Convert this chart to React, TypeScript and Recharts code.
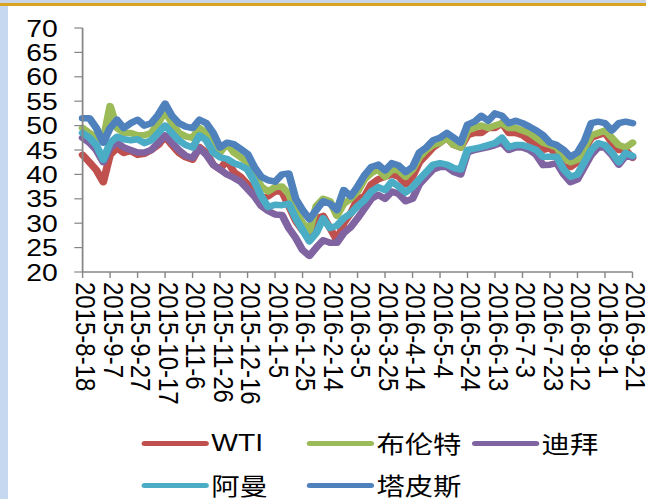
import { LineChart, Line, XAxis, YAxis } from 'recharts';

// days since 2015-8-18, one point every 5 days
const days = [
  0, 5, 10, 15, 20, 25, 30, 35, 40, 45, 50, 55, 60, 65, 70, 75, 80, 85, 90, 95,
  100, 105, 110, 115, 120, 125, 130, 135, 140, 145, 150, 155, 160, 165, 170, 175, 180, 185, 190, 195,
  200, 205, 210, 215, 220, 225, 230, 235, 240, 245, 250, 255, 260, 265, 270, 275, 280, 285, 290, 295,
  300, 305, 310, 315, 320, 325, 330, 335, 340, 345, 350, 355, 360, 365, 370, 375, 380, 385, 390, 395, 400
];

const wti = [
  44, 42.5, 40.9, 38.4, 44, 45.4, 44.4, 44.8, 44, 44.2, 45, 46, 47.8, 46, 44.4, 43.5, 43, 45.6, 44.5, 42,
  41, 43, 40.5, 39.5, 38, 37, 35.2, 35.5, 36.5, 36.5, 33.5, 30.5, 28.5, 28, 31, 31.5, 29, 26.5, 30, 32,
  35, 35.5, 38, 39, 39.5, 40, 39.5, 38, 39.5, 42.5, 44, 45.5, 46.5, 47.5, 46, 45.5, 48, 48.5, 48.5, 49.5,
  49.5, 50.5, 48.5, 48.5, 48, 47, 46, 45, 45.4, 44, 41.5, 41.5, 42.5, 45, 47.5, 48, 48.5, 46.5, 45, 45, 43.4
];

const brent = [
  49.5, 48.5, 47.5, 47, 54, 49.5, 48.5, 48.5, 48, 48, 48.5, 50.5, 53, 50.5, 48.5, 47.8, 47.5, 49.5, 48.5, 46,
  44.5, 46.4, 44.5, 43.5, 42.5, 40, 37.5, 36.5, 37.4, 37.5, 36, 32.5, 30, 28.5, 33.5, 35, 34.5, 31.5, 34, 35,
  36.5, 39, 40.3, 41, 39.5, 41, 40.8, 39.5, 41, 43.5, 45, 46, 46.5, 47.5, 46, 45.5, 49, 49.5, 50, 49.5,
  50, 50.5, 49.5, 49.5, 49, 48.5, 47.5, 46.5, 46, 45.5, 43.5, 42.5, 43, 45.5, 48, 48.5, 49, 47.5, 46, 45.5, 46.5
];

const dubai = [
  47.5, 46.5, 45, 42.5, 45.5, 46.5, 45.5, 45, 44.5, 44.5, 45, 46.5, 48, 46.5, 45, 43.8, 43.4, 45.4, 44, 42,
  41, 40, 39.3, 38.5, 37, 35.5, 33.5, 32.5, 31.8, 31.7, 29, 27, 24.5, 23.3, 25, 26.5, 26, 26, 28, 29.2,
  31, 33, 35, 35.8, 35, 36.5, 36, 34.5, 35, 38, 39.5, 41, 41.5, 41.5, 40.5, 40, 44.5, 45, 45.3, 45.6,
  46, 46.5, 45, 45.5, 45.5, 45, 44, 41.9, 42, 42.3, 40, 38.4, 39, 41.5, 44, 45.5, 45.5, 44, 42, 43.8, 43.5
];

const oman = [
  48.5, 47.5, 46, 43, 46.5, 47.7, 47.2, 47, 47.2, 46.4, 47, 48.5, 50, 48.5, 47, 46, 45.5, 48, 47, 44.5,
  43.5, 43.2, 42.3, 41.8, 41, 38.5, 35.5, 33.3, 33.8, 33.7, 34, 31, 28.6, 26.3, 28, 31, 29, 29.5, 31, 32,
  33.5, 34.7, 36.5, 37.4, 36.8, 38.5, 37.5, 36.3, 37.4, 39, 40.5, 42, 42.3, 42, 41.3, 41, 45, 45.3, 45.6, 46,
  46.4, 47.5, 45.6, 46, 46, 45.6, 45, 43.6, 43.6, 43.6, 41, 39.5, 40, 42.5, 45, 46.4, 46, 44.5, 42.5, 44.4, 43.8
];

const tapis = [
  51.5, 51.5, 49.5, 46.5, 49.5, 51.2, 49.5, 50.5, 51.2, 50, 50.5, 52.2, 54.5, 52, 50.5, 49.8, 49.5, 51.2, 50.5, 48.5,
  45.5, 46.5, 46.2, 45.2, 44.2, 41.5, 39.5, 38.8, 38.5, 40, 40.2, 35, 32.7, 30.8, 32.7, 34.5, 34, 32.7, 36.8, 35.5,
  37.5, 39.8, 41.5, 42, 40.8, 42.3, 41.8, 40.5, 41.5, 44.5, 45.5, 47, 47.5, 48.5, 47.5, 46.5, 50.2, 50.8, 52, 51,
  52.5, 52, 50.5, 51, 50.5, 49.8, 49, 48, 46.5, 46, 45, 43.6, 44.5, 46.8, 50.5, 50.8, 50.5, 49, 50.5, 50.8, 50.5
];

const xTicks = [0, 20, 40, 60, 80, 100, 120, 140, 160, 180, 200, 220, 240, 260, 280, 300, 320, 340, 360, 380, 400];
const xTickLabels = [
  '2015-8-18', '2015-9-7', '2015-9-27', '2015-10-17', '2015-11-6', '2015-11-26', '2015-12-16',
  '2016-1-5', '2016-1-25', '2016-2-14', '2016-3-5', '2016-3-25', '2016-4-14', '2016-5-4',
  '2016-5-24', '2016-6-13', '2016-7-3', '2016-7-23', '2016-8-12', '2016-9-1', '2016-9-21'
];
const yTicks = [20, 25, 30, 35, 40, 45, 50, 55, 60, 65, 70];

const seriesNames = ['WTI', '布伦特', '迪拜', '阿曼', '塔皮斯'];
const seriesKeys = ['wti', 'brent', 'dubai', 'oman', 'tapis'];
const seriesColors = ['#c0504d', '#9bbb59', '#8064a2', '#4bacc6', '#4f81bd'];

const rows = days.map((day, i) => ({
  day,
  wti: wti[i],
  brent: brent[i],
  dubai: dubai[i],
  oman: oman[i],
  tapis: tapis[i]
}));

// the reference is stretched sideways, so draw narrower and scale x
const SX = 1.18;
const W = 547;
const H = 410;
const FONT = '"Liberation Sans", Arial, sans-serif';
const CJK = '"Noto Sans CJK SC", "Liberation Sans", sans-serif';

const DateTick = (props: any) => {
  const { x, y, payload } = props;
  const idx = xTicks.indexOf(payload.value);
  return (
    <text
      x={x}
      y={y}
      dy="0.22em"
      transform={`rotate(90 ${x} ${y})`}
      textAnchor="start"
      fill="#000"
      fontSize={24}
      fontFamily={FONT}
    >
      {idx >= 0 ? xTickLabels[idx] : ''}
    </text>
  );
};

// legend slots: [left of line, centre y], local coords
const legendPos = [
  [120, 443],
  [260, 443],
  [400, 443],
  [120, 485],
  [260, 485]
];

export default function App() {
  return (
    <div style={{ position: 'relative', width: 646, height: 499, background: '#fff', overflow: 'hidden' }}>
      <style>{'body{margin:0}'}</style>
      <div style={{ position: 'absolute', left: 0, top: 0, width: 646, height: 3, background: '#c9d4e6' }} />
      <div style={{ position: 'absolute', left: 0, top: 3, width: 646, height: 3, background: '#d9a521' }} />
      <div style={{ position: 'absolute', left: 0, top: 6, width: 8, height: 493, background: '#c6d8f0' }} />
      <div
        style={{
          position: 'absolute',
          left: 0,
          top: 0,
          width: W,
          height: 499,
          transform: `scaleX(${SX})`,
          transformOrigin: '0 0'
        }}
      >
        <LineChart width={W} height={H} data={rows} margin={{ top: 28, right: 11, bottom: 8, left: 0 }}>
          <XAxis
            dataKey="day"
            type="number"
            domain={[0, 400]}
            ticks={xTicks}
            interval={0}
            height={130}
            tickSize={6}
            tickMargin={4}
            tick={<DateTick />}
            axisLine={{ stroke: '#868686', strokeWidth: 1.5 }}
            tickLine={{ stroke: '#868686', strokeWidth: 1.2 }}
          />
          <YAxis
            type="number"
            domain={[20, 70]}
            ticks={yTicks}
            interval={0}
            width={70}
            tickSize={7}
            tickMargin={14}
            tick={{ fill: '#000', fontSize: 24, fontFamily: FONT }}
            axisLine={{ stroke: '#868686', strokeWidth: 1.5 }}
            tickLine={{ stroke: '#868686', strokeWidth: 1.2 }}
          />
          {seriesKeys.map((k, i) => (
            <Line
              key={k}
              type="linear"
              dataKey={k}
              name={seriesNames[i]}
              stroke={seriesColors[i]}
              strokeWidth={6.5}
              strokeLinejoin="round"
              strokeLinecap="round"
              dot={false}
              isAnimationActive={false}
            />
          ))}
        </LineChart>
        {seriesNames.map((name, i) => (
          <div
            key={name}
            style={{
              position: 'absolute',
              left: legendPos[i][0],
              top: legendPos[i][1] - 12,
              height: 24,
              display: 'flex',
              alignItems: 'center',
              whiteSpace: 'nowrap'
            }}
          >
            <div style={{ width: 57, height: 5, borderRadius: 3, background: seriesColors[i], marginRight: 2 }} />
            <span
              style={{
                fontSize: 24,
                lineHeight: '24px',
                height: 24,
                color: '#000',
                fontFamily: i === 0 ? FONT : CJK
              }}
            >
              {name}
            </span>
          </div>
        ))}
      </div>
    </div>
  );
}
